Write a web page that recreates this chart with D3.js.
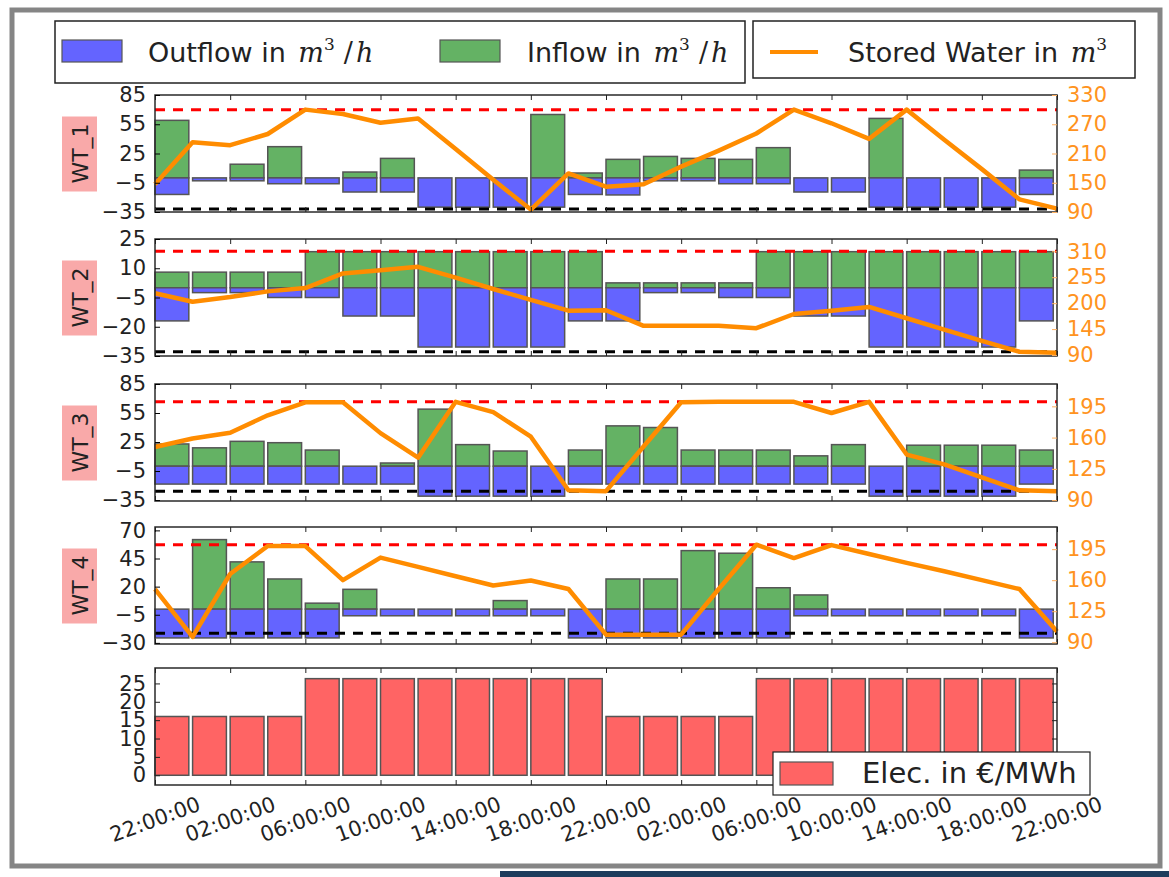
<!DOCTYPE html>
<html>
<head>
<meta charset="utf-8">
<script src="https://cdn.jsdelivr.net/npm/d3@7"></script>
<style>
body { margin: 0; background: #fff; }
text { font-family: "DejaVu Sans", sans-serif; }
</style>
</head>
<body>
<div id="chart"></div>
<script>
// data (24 slots of 2 hours, 25 storage points)

var timeLabels = ["22:00:00", "02:00:00", "06:00:00", "10:00:00", "14:00:00", "18:00:00", "22:00:00",
                  "02:00:00", "06:00:00", "10:00:00", "14:00:00", "18:00:00", "22:00:00"];

var inflow1 = [59, 0, 14, 32, 0, 6, 20, 0, 0, 0, 65, 5, 19, 22, 20, 19, 31, 0, 0, 61, 0, 0, 0, 8];
var outflow1 = [17, 3, 3, 6, 6, 14.5, 14.5, 30, 30, 30, 30, 17, 17.5, 3, 3, 6, 6, 14.5, 14.5, 30, 30, 30, 30, 17];
var stored1 = [147, 233, 227, 250, 300, 291, 273, 282, 219, 156, 95, 169, 142, 147, 183, 216, 251, 300, 272, 240, 300, 238, 178, 116, 97];

var inflow2 = [8, 8, 8, 8, 18.5, 18.5, 18.5, 18.5, 18.5, 18.5, 18.5, 18.5, 2.5, 2.5, 2.5, 2.5, 18.5, 18.5, 18.5, 18.5, 18.5, 18.5, 18.5, 18.5];
var outflow2 = [17, 2.5, 2.5, 5, 5, 14.5, 14.5, 30.4, 30.4, 30.4, 30.4, 17, 17, 2.5, 2.5, 5, 5, 14.5, 14.5, 30.4, 30.4, 30.4, 30.4, 17];
var stored2 = [221, 203, 213, 225, 232, 263, 270, 277, 254, 230, 207, 184, 185, 152, 152, 152, 147, 177, 184, 192, 168, 144, 120, 97, 95];

var inflow3 = [23, 19, 25.7, 24.3, 16.7, 0, 3.3, 59, 22.3, 15.7, 0, 16.7, 41.7, 40, 16.7, 16.7, 16.7, 10.7, 22.3, 0, 21.7, 21.7, 21.7, 16.7];
var outflow3 = [18.5, 18.5, 18.5, 18.5, 18.5, 18.5, 18.5, 31, 31, 31, 31, 18.5, 18.5, 18.5, 18.5, 18.5, 18.5, 18.5, 18.5, 31, 31, 31, 31, 18.5];
var stored3 = [149.5, 159, 165.5, 185, 199.5, 199.5, 165, 137.5, 200, 188.5, 161, 101, 100, 150, 199.5, 200, 200, 200, 187.5, 200, 141, 130, 115.5, 101, 100];

var inflow4 = [0, 61.8, 42, 26.8, 5.3, 17.6, 0, 0, 0, 7.6, 0, 0, 26.8, 26.8, 52, 49.7, 19, 12.6, 0, 0, 0, 0, 0, 0];
var outflow4 = [25.6, 25.6, 25.6, 25.6, 25.6, 5.9, 5.9, 5.9, 5.9, 5.9, 5.9, 25.6, 25.6, 25.6, 25.6, 25.6, 25.6, 5.9, 5.9, 5.9, 5.9, 5.9, 5.9, 25.6];
var stored4 = [150, 96, 167, 198.5, 198.5, 160, 185.5, 175, 164.5, 154, 159.6, 150, 98.5, 98.5, 98.5, 150, 200, 185, 199.6, 189.5, 179.5, 170, 160, 150, 102];

var elecPrice = [16, 16, 16, 16, 26.3, 26.3, 26.3, 26.3, 26.3, 26.3, 26.3, 26.3,
                 16, 16, 16, 16, 26.3, 26.3, 26.3, 26.3, 26.3, 26.3, 26.3, 26.3];

var flowTicks1 = [-35, -5, 25, 55, 85], storeTicks1 = [90, 150, 210, 270, 330];
var flowTicks2 = [-35, -20, -5, 10, 25], storeTicks2 = [90, 145, 200, 255, 310];
var flowTicks3 = [-35, -5, 25, 55, 85], storeTicks3 = [90, 125, 160, 195];
var flowTicks4 = [-30, -5, 20, 45, 70], storeTicks4 = [90, 125, 160, 195];
var elecTicks = [0, 5, 10, 15, 20, 25];

var tanks = [
  {name: "WT_1", inflow: inflow1, outflow: outflow1, stored: stored1, flowDomain: [-35, 85], flowTicks: flowTicks1,
   storeDomain: [90, 330], storeTicks: storeTicks1, maxLevel: 300, minLevel: 96},
  {name: "WT_2", inflow: inflow2, outflow: outflow2, stored: stored2, flowDomain: [-35, 25], flowTicks: flowTicks2,
   storeDomain: [88, 336], storeTicks: storeTicks2, maxLevel: 310, minLevel: 97},
  {name: "WT_3", inflow: inflow3, outflow: outflow3, stored: stored3, flowDomain: [-36, 85], flowTicks: flowTicks3,
   storeDomain: [89, 220], storeTicks: storeTicks3, maxLevel: 200, minLevel: 100},
  {name: "WT_4", inflow: inflow4, outflow: outflow4, stored: stored4, flowDomain: [-31, 73], flowTicks: flowTicks4,
   storeDomain: [88, 220], storeTicks: storeTicks4, maxLevel: 200, minLevel: 100}
];

// layout

var width = 1169, height = 877;
var plotLeft = 155, plotRight = 1057;
var panelTop = [95, 239, 384, 527, 668], panelH = 117;

var blueFill = "#6464ff", greenFill = "#64b264", redFill = "#ff6464",
    edgeColor = "#555", orange = "#ff8c00";

var svg = d3.select("#chart").append("svg")
    .attr("width", width)
    .attr("height", height);

// outer slide frame
svg.append("rect")
    .attr("x", 12).attr("y", 10)
    .attr("width", 1148).attr("height", 856)
    .attr("fill", "#fff")
    .attr("stroke", "#858585")
    .attr("stroke-width", 5);
svg.append("rect")
    .attr("x", 500).attr("y", 871)
    .attr("width", 669).attr("height", 6)
    .attr("fill", "#1d3c5c");

var x = d3.scaleLinear().domain([0, 48]).range([plotLeft, plotRight]);
var hourTicks = d3.range(0, 49, 4);
var barW = x(1.8) - x(0);

function xTickMarks(g, top, bot) {
    g.append("g")
        .attr("transform", "translate(0," + bot + ")")
        .call(d3.axisBottom(x).tickValues(hourTicks).tickSize(-5).tickFormat(""))
        .call(function(a) { a.select(".domain").remove(); a.selectAll("line").attr("stroke", "#222"); });
    g.append("g")
        .attr("transform", "translate(0," + top + ")")
        .call(d3.axisTop(x).tickValues(hourTicks).tickSize(-5).tickFormat(""))
        .call(function(a) { a.select(".domain").remove(); a.selectAll("line").attr("stroke", "#222"); });
}

function drawTank(p, i) {
    var top = panelTop[i], bot = top + panelH;
    var y = d3.scaleLinear().domain(p.flowDomain).range([bot, top]);
    var y2 = d3.scaleLinear().domain(p.storeDomain).range([bot, top]);
    var g = svg.append("g");

    g.selectAll(".inflow")
        .data(p.inflow)
        .enter()
        .append("rect")
        .attr("x", function(d, j) { return x(j * 2); })
        .attr("width", barW)
        .attr("y", function(d) { return y(d); })
        .attr("height", function(d) { return y(0) - y(d); })
        .attr("fill", greenFill)
        .attr("stroke", edgeColor)
        .attr("stroke-width", 1.5);

    g.selectAll(".outflow")
        .data(p.outflow)
        .enter()
        .append("rect")
        .attr("x", function(d, j) { return x(j * 2); })
        .attr("width", barW)
        .attr("y", y(0))
        .attr("height", function(d) { return y(-d) - y(0); })
        .attr("fill", blueFill)
        .attr("stroke", edgeColor)
        .attr("stroke-width", 1.5);

    // storage limits
    [[p.maxLevel, "#ff0000"], [p.minLevel, "#000"]].forEach(function(l) {
        g.append("line")
            .attr("x1", plotLeft).attr("x2", plotRight)
            .attr("y1", y2(l[0])).attr("y2", y2(l[0]))
            .attr("stroke", l[1])
            .attr("stroke-width", 3)
            .attr("stroke-dasharray", "10,8");
    });

    var line = d3.line()
        .x(function(d, k) { return x(k * 2); })
        .y(function(d) { return y2(d); });

    g.append("path")
        .datum(p.stored)
        .attr("d", line)
        .attr("fill", "none")
        .attr("stroke", orange)
        .attr("stroke-width", 4.5)
        .attr("stroke-linejoin", "round");

    g.append("rect")
        .attr("x", plotLeft).attr("y", top)
        .attr("width", plotRight - plotLeft).attr("height", panelH)
        .attr("fill", "none")
        .attr("stroke", "#2a2a2a")
        .attr("stroke-width", 1.5);

    xTickMarks(g, top, bot);

    var yAxis = d3.axisLeft(y).tickValues(p.flowTicks).tickSize(-5).tickPadding(9).tickSizeOuter(0);
    g.append("g")
        .attr("transform", "translate(" + plotLeft + ",0)")
        .call(yAxis)
        .call(function(a) {
            a.select(".domain").remove();
            a.selectAll("text").attr("font-size", 21).attr("fill", "#222")
                .attr("font-family", "DejaVu Sans");
        });

    var yAxis2 = d3.axisRight(y2).tickValues(p.storeTicks).tickSize(-5).tickPadding(10).tickSizeOuter(0);
    g.append("g")
        .attr("transform", "translate(" + plotRight + ",0)")
        .call(yAxis2)
        .call(function(a) {
            a.select(".domain").remove();
            a.selectAll("line").attr("stroke", "#ffb060");
            a.selectAll("text").attr("font-size", 21).attr("fill", "#ff9320")
                .attr("font-family", "DejaVu Sans");
        });

    // tank label with pink box
    var cy = (top + bot) / 2;
    g.append("rect")
        .attr("x", 62).attr("y", cy - 37)
        .attr("width", 35).attr("height", 75)
        .attr("fill", "#f9a9a9");
    g.append("text")
        .attr("transform", "translate(80," + cy + ") rotate(-90)")
        .attr("text-anchor", "middle")
        .attr("dy", "0.36em")
        .attr("font-size", 22)
        .attr("fill", "#222")
        .text(p.name);
}

tanks.forEach(drawTank);

// electricity panel
(function() {
    var top = panelTop[4], bot = top + panelH;
    var y = d3.scaleLinear().domain([-2.65, 29.2]).range([bot, top]);
    var g = svg.append("g");

    g.selectAll(".elec")
        .data(elecPrice)
        .enter()
        .append("rect")
        .attr("x", function(d, j) { return x(j * 2); })
        .attr("width", barW)
        .attr("y", function(d) { return y(d); })
        .attr("height", function(d) { return y(0) - y(d); })
        .attr("fill", redFill)
        .attr("stroke", edgeColor)
        .attr("stroke-width", 1.5);

    g.append("rect")
        .attr("x", plotLeft).attr("y", top)
        .attr("width", plotRight - plotLeft).attr("height", panelH)
        .attr("fill", "none")
        .attr("stroke", "#2a2a2a")
        .attr("stroke-width", 1.5);

    xTickMarks(g, top, bot);

    g.append("g")
        .attr("transform", "translate(" + plotLeft + ",0)")
        .call(d3.axisLeft(y).tickValues(elecTicks).tickSize(-5).tickPadding(9).tickSizeOuter(0))
        .call(function(a) {
            a.select(".domain").remove();
            a.selectAll("line").attr("stroke", "#222");
            a.selectAll("text").attr("font-size", 21).attr("fill", "#222")
                .attr("font-family", "DejaVu Sans");
        });
    g.append("g")
        .attr("transform", "translate(" + plotRight + ",0)")
        .call(d3.axisRight(y).tickValues(elecTicks).tickSize(-5).tickFormat("").tickSizeOuter(0))
        .call(function(a) { a.select(".domain").remove(); a.selectAll("line").attr("stroke", "#222"); });

    // rotated time labels
    g.selectAll(".tlabel")
        .data(timeLabels)
        .enter()
        .append("text")
        .attr("transform", function(d, k) {
            return "translate(" + x(hourTicks[k]) + "," + (bot + 34) + ") rotate(-20)";
        })
        .attr("text-anchor", "middle")
        .attr("dy", "0.36em")
        .attr("font-size", 21)
        .attr("fill", "#222")
        .text(function(d) { return d; });

    // legend for the price
    var lg = g.append("g");
    lg.append("rect")
        .attr("x", 773).attr("y", 752)
        .attr("width", 317).attr("height", 43)
        .attr("fill", "#fff")
        .attr("stroke", "#222")
        .attr("stroke-width", 1.2);
    lg.append("rect")
        .attr("x", 780).attr("y", 762)
        .attr("width", 53).attr("height", 23)
        .attr("fill", redFill)
        .attr("stroke", edgeColor)
        .attr("stroke-width", 1.2);
    lg.append("text")
        .attr("x", 862).attr("y", 773)
        .attr("dy", "0.36em")
        .attr("font-size", 29)
        .attr("fill", "#222")
        .text("Elec. in €/MWh");
})();

// top legends
function mathUnit(t, pre, sup, post) {
    t.append("tspan").text(pre);
    t.append("tspan").attr("font-family", "DejaVu Serif").attr("font-style", "italic").attr("dx", 4).text("m");
    t.append("tspan").attr("font-family", "DejaVu Serif").attr("font-size", 17).attr("dy", -12).text(sup);
    if (post) {
        t.append("tspan").attr("font-family", "DejaVu Serif").attr("dy", 12).attr("dx", 9).text("/");
        t.append("tspan").attr("font-family", "DejaVu Serif").attr("font-style", "italic").attr("dx", 3).text("h");
    }
}

var leg1 = svg.append("g");
leg1.append("rect")
    .attr("x", 55).attr("y", 21)
    .attr("width", 690).attr("height", 62)
    .attr("fill", "#fff")
    .attr("stroke", "#222")
    .attr("stroke-width", 1.5);
[["Outflow in ", blueFill, 62, 148], ["Inflow in ", greenFill, 440, 527]].forEach(function(e) {
    leg1.append("rect")
        .attr("x", e[2]).attr("y", 40)
        .attr("width", 60).attr("height", 22)
        .attr("fill", e[1])
        .attr("stroke", edgeColor)
        .attr("stroke-width", 1.2);
    var t = leg1.append("text")
        .attr("x", e[3]).attr("y", 52)
        .attr("dy", "0.36em")
        .attr("font-size", 27)
        .attr("fill", "#222");
    mathUnit(t, e[0], "3", true);
});

var leg2 = svg.append("g");
leg2.append("rect")
    .attr("x", 753).attr("y", 21)
    .attr("width", 382).attr("height", 57)
    .attr("fill", "#fff")
    .attr("stroke", "#222")
    .attr("stroke-width", 1.5);
leg2.append("line")
    .attr("x1", 770).attr("x2", 818)
    .attr("y1", 52).attr("y2", 52)
    .attr("stroke", orange)
    .attr("stroke-width", 4);
var t2 = leg2.append("text")
    .attr("x", 848).attr("y", 52)
    .attr("dy", "0.36em")
    .attr("font-size", 27)
    .attr("fill", "#222");
mathUnit(t2, "Stored Water in ", "3", false);
</script>
</body>
</html>
